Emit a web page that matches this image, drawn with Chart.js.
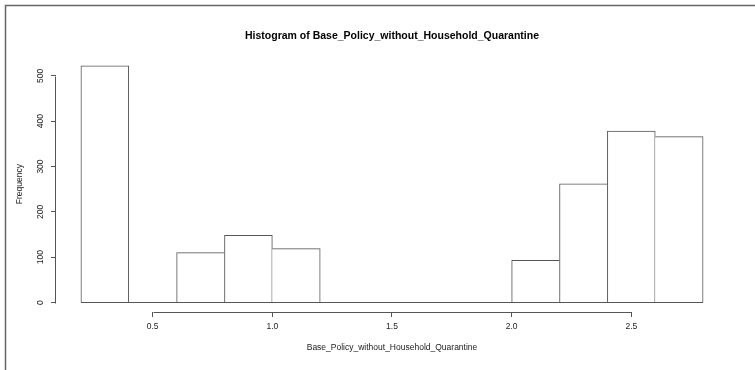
<!DOCTYPE html>
<html>
<head>
<meta charset="utf-8">
<script src="https://cdn.jsdelivr.net/npm/chart.js@4.4.1/dist/chart.umd.min.js"></script>
<style>
  html, body { margin: 0; padding: 0; background: #fff; }
  #wrap { width: 755px; height: 370px; position: relative; }
</style>
</head>
<body>
<div id="wrap"><canvas id="hist"></canvas></div>
<script>
// histogram bins (width 0.2) and their counts
const binMids = [0.3, 0.5, 0.7, 0.9, 1.1, 1.3, 1.5, 1.7, 1.9, 2.1, 2.3, 2.5, 2.7];
const counts = [522, 0, 110, 148, 119, 0, 0, 0, 0, 93, 262, 378, 366];
const binWidth = 0.2;

const xTicks = [0.5, 1.0, 1.5, 2.0, 2.5];
const xTickLabels = ['0.5', '1.0', '1.5', '2.0', '2.5'];
const yTicks = [0, 100, 200, 300, 400, 500];

const titleText = 'Histogram of Base_Policy_without_Household_Quarantine';
const xTitle = 'Base_Policy_without_Household_Quarantine';
const yTitle = 'Frequency';

const FONT = '"Liberation Sans", Arial, sans-serif';
const LINE = '#555';
const TEXT = '#222';

// axis ranges padded by 4% like base R plots
const xLo = binMids[0] - binWidth / 2;
const xHi = binMids[binMids.length - 1] + binWidth / 2;
const xPad = (xHi - xLo) * 0.04;
const yMaxCount = Math.max(...counts);
const yPad = yMaxCount * 0.04;

// neighbouring bars share an edge: the taller one draws it, the baseline is drawn separately
function edgeWidths(ctx) {
  const i = ctx.dataIndex;
  const c = counts[i];
  const left = (i === 0 || counts[i - 1] < c) ? 1 : 0;
  const right = (i === counts.length - 1 || counts[i + 1] <= c) ? 1 : 0;
  return { top: 1, bottom: 0, left, right };
}

const axesPlugin = {
  id: 'rAxes',
  afterDraw(chart) {
    const { ctx, chartArea } = chart;
    const xs = chart.scales.x, ys = chart.scales.y;
    ctx.save();

    // outer frame
    ctx.strokeStyle = '#666';
    ctx.lineWidth = 1.5;
    ctx.beginPath();
    ctx.moveTo(5.5, 370);
    ctx.lineTo(5.5, 5.5);
    ctx.lineTo(755, 5.5);
    ctx.stroke();

    // main title, centred over the plot region
    ctx.fillStyle = '#000';
    ctx.font = 'bold 10.5px ' + FONT;
    ctx.textAlign = 'center';
    ctx.textBaseline = 'middle';
    ctx.fillText(titleText, (chartArea.left + chartArea.right) / 2, 36);

    ctx.strokeStyle = LINE;
    ctx.lineWidth = 1;

    // baseline under the bins
    const y0 = Math.round(ys.getPixelForValue(0)) - 0.5;
    ctx.beginPath();
    ctx.moveTo(xs.getPixelForValue(xLo), y0);
    ctx.lineTo(xs.getPixelForValue(xHi), y0);
    ctx.stroke();

    // x axis line between first and last tick
    const xb = Math.round(chartArea.bottom) + 0.5;
    ctx.beginPath();
    ctx.moveTo(Math.round(xs.getPixelForValue(xTicks[0])) + 0.5, xb);
    ctx.lineTo(Math.round(xs.getPixelForValue(xTicks[xTicks.length - 1])) + 0.5, xb);
    ctx.stroke();

    // y axis line between first and last tick
    const yl = Math.round(chartArea.left) - 0.5;
    ctx.beginPath();
    ctx.moveTo(yl, Math.round(ys.getPixelForValue(yTicks[0])) + 0.5);
    ctx.lineTo(yl, Math.round(ys.getPixelForValue(yTicks[yTicks.length - 1])) + 0.5);
    ctx.stroke();

    // rotated y tick labels
    ctx.fillStyle = TEXT;
    ctx.font = '8.5px ' + FONT;
    yTicks.forEach(v => {
      ctx.save();
      ctx.translate(41, ys.getPixelForValue(v));
      ctx.rotate(-Math.PI / 2);
      ctx.fillText(String(v), 0, 0);
      ctx.restore();
    });
    ctx.restore();
  }
};

new Chart(document.getElementById('hist'), {
  type: 'bar',
  data: {
    datasets: [{
      data: binMids.map((m, i) => ({ x: m, y: counts[i] })),
      backgroundColor: '#fff',
      borderColor: LINE,
      borderWidth: edgeWidths,
      borderSkipped: false,
      barPercentage: 1,
      categoryPercentage: 1
    }]
  },
  options: {
    responsive: true,
    maintainAspectRatio: false,
    animation: false,
    layout: { padding: { left: 0, right: 27, top: 56.4, bottom: 0 } },
    plugins: {
      legend: { display: false },
      tooltip: { enabled: false },
      title: { display: false }
    },
    scales: {
      x: {
        type: 'linear',
        offset: false,
        min: xLo - xPad,
        max: xHi + xPad,
        afterBuildTicks: s => { s.ticks = xTicks.map(v => ({ value: v })); },
        afterFit: s => { s.height = 58; },
        border: { display: false },
        grid: { offset: false, drawOnChartArea: false, drawTicks: true, tickLength: 5, color: LINE },
        ticks: {
          color: TEXT,
          font: { family: FONT, size: 8.5 },
          padding: 5,
          maxRotation: 0,
          callback: (v, i) => xTickLabels[i]
        },
        title: {
          display: true,
          text: xTitle,
          color: TEXT,
          font: { family: FONT, size: 8.5 },
          padding: { top: 0, bottom: 17 }
        }
      },
      y: {
        min: -yPad,
        max: yMaxCount + yPad,
        afterBuildTicks: s => { s.ticks = yTicks.map(v => ({ value: v })); },
        afterFit: s => { s.width = 56; },
        border: { display: false },
        grid: { drawOnChartArea: false, drawTicks: true, tickLength: 5, color: LINE },
        ticks: { display: false },
        title: {
          display: true,
          text: yTitle,
          color: TEXT,
          font: { family: FONT, size: 8.5 },
          padding: { top: 15, bottom: 0 }
        }
      }
    }
  },
  plugins: [axesPlugin]
});
</script>
</body>
</html>
